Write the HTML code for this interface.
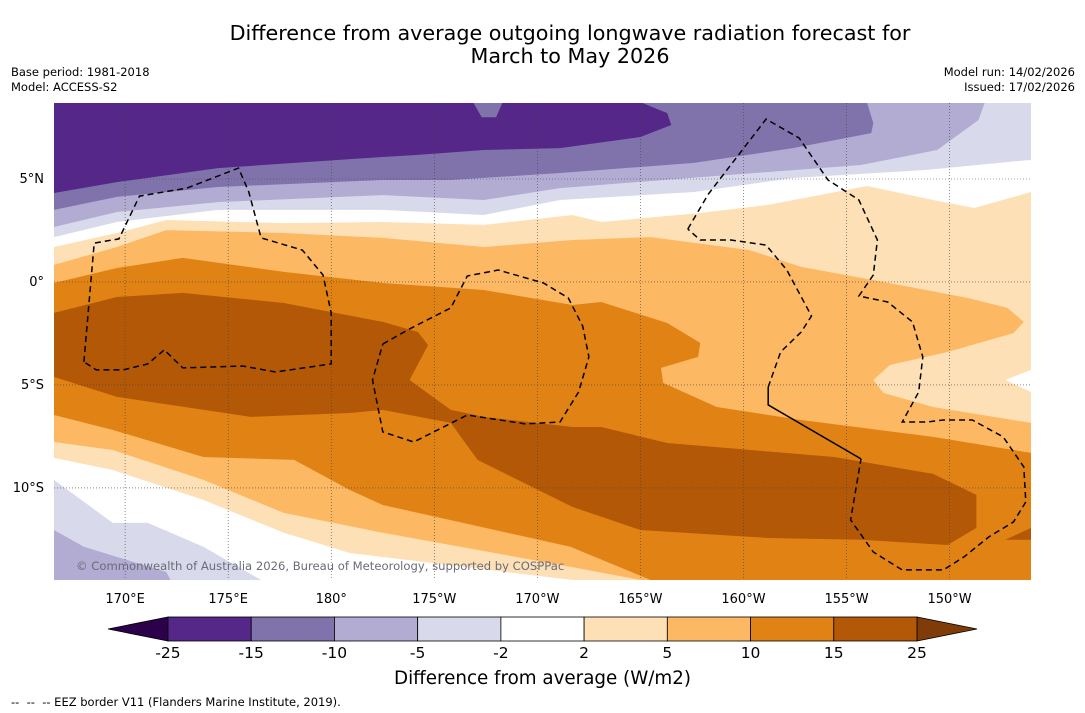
<!DOCTYPE html>
<html><head><meta charset="utf-8">
<style>
html,body{margin:0;padding:0;background:#fff;}
body{width:1085px;height:713px;position:relative;overflow:hidden;font-family:"DejaVu Sans","Liberation Sans",sans-serif;}
.t{position:absolute;color:#000;white-space:nowrap;}
</style></head>
<body>
<div class="t" style="left:0;width:1140px;text-align:center;top:22px;font-size:20.7px;line-height:23px;">Difference from average outgoing longwave radiation forecast for<br>March to May 2026</div>
<div class="t" style="left:11px;top:65px;font-size:11.5px;line-height:15px;">Base period: 1981-2018<br>Model: ACCESS-S2</div>
<div class="t" style="right:10px;top:65px;font-size:11.5px;line-height:15px;text-align:right;">Model run: 14/02/2026<br>Issued: 17/02/2026</div>
<svg id="map" width="1085" height="713" style="position:absolute;left:0;top:0;" xmlns="http://www.w3.org/2000/svg"></svg>
<div class="t" style="left:0;width:1085px;text-align:center;top:668px;font-size:18.3px;">Difference from average (W/m2)</div>
<div class="t" style="left:11px;top:695px;font-size:11.5px;">-- &nbsp;-- &nbsp;-- EEZ border V11 (Flanders Marine Institute, 2019).</div>
<script>
// ---- data ----
const lonTicks = [170,175,180,185,190,195,200,205,210];
const lonTickLabels = ["170°E","175°E","180°","175°W","170°W","165°W","160°W","155°W","150°W"];
const latTicks = [5,0,-5,-10];
const latTickLabels = ["5°N","0°","5°S","10°S"];
const cbLevels = ["-25","-15","-10","-5","-2","2","5","10","15","25"];
const cbColors = ["#542788","#8073ac","#b2abd2","#d8daeb","#ffffff","#fee0b6","#fdb863","#e08214","#b35806"];
const W=166.55,E=213.95,N=8.69,S=-14.47;
const ge2 = [[W,1.70],[169.6,2.38],[172.0,3.01],[177.7,2.86],[182.5,2.91],[187.4,2.77],[191.7,3.25],[193.1,2.91],[197.9,3.35],[201.2,3.74],[206.0,4.66],[209.2,3.98],[211.2,3.59],[E,4.37],[E,S],[191.7,S],[180.9,-13.16],[177.7,-12.18],[173.8,-10.58],[169.4,-9.13],[W,-8.54]];
const ge5 = [[W,0.83],[169.6,1.70],[172.0,2.52],[177.7,2.38],[182.5,2.14],[187.4,1.70],[191.7,2.04],[195.5,2.18],[200.3,1.55],[202.8,0.73],[206.8,0],[210.9,-0.78],[212.8,-1.26],[213.6,-1.94],[213.1,-2.48],[209.9,-3.40],[207.1,-4.03],[206.3,-4.76],[206.8,-5.39],[209.2,-6.07],[E,-6.84],[E,S],[195.0,S],[191.6,-13.83],[182.5,-12.18],[177.7,-11.21],[173.8,-9.61],[169.4,-8.16],[W,-7.77]];
const pocketLow = [[E,-4.27],[212.7,-4.76],[E,-5.34]];
const ge10 = [[W,-0.05],[169.6,0.68],[172.8,1.17],[177.7,0.49],[182.5,-0.05],[187.4,-0.39],[191.7,-1.12],[193.1,-0.97],[196.3,-1.99],[197.9,-2.96],[197.8,-3.64],[196.0,-4.17],[196.1,-4.90],[198.7,-6.07],[202.8,-6.70],[209.2,-7.52],[E,-8.30],[E,S],[195.5,S],[191.6,-12.86],[182.5,-10.83],[180.9,-10.10],[178.2,-8.64],[173.8,-8.50],[169.4,-7.18],[W,-6.46]];
const ge15 = [[W,-1.50],[169.6,-0.73],[172.8,-0.53],[177.7,-1.02],[182.5,-1.94],[184.2,-2.43],[184.7,-3.06],[183.8,-4.76],[185.8,-6.21],[187.4,-6.55],[191.7,-7.04],[193.1,-7.04],[196.3,-7.82],[204.4,-8.50],[209.2,-9.32],[211.3,-10.34],[211.3,-11.94],[209.9,-12.77],[205.7,-12.52],[201.2,-12.43],[195.0,-12.04],[191.7,-10.92],[187.1,-8.64],[185.8,-6.84],[182.5,-6.21],[180.9,-6.36],[176.1,-6.55],[169.6,-5.58],[W,-4.61]];
const ge15b = [[212.7,-12.52],[E,-11.94],[E,-12.52]];
const le2 = [[W,N],[E,N],[E,5.92],[213.8,5.92],[208.9,5.44],[202.4,5.05],[197.6,4.37],[191.1,3.98],[187.4,3.25],[182.5,3.50],[174.5,3.50],[169.6,2.91],[W,2.18]];
const le5 = [[W,N],[211.7,N],[211.4,7.86],[209.4,6.41],[205.7,5.68],[199.2,5.19],[191.1,4.56],[187.4,3.98],[182.5,4.22],[174.5,3.88],[169.6,3.40],[W,2.67]];
const le10 = [[W,N],[206.0,N],[206.3,7.72],[206.2,7.23],[202.4,6.50],[197.6,5.78],[191.1,5.29],[185.8,4.95],[182.5,4.95],[174.5,4.61],[169.6,4.13],[W,3.50]];
const le15 = [[W,N],[186.9,N],[187.3,8.0],[188.0,8.0],[188.3,N],[195.1,N],[196.3,8.20],[196.5,7.62],[195.0,7.04],[191.1,6.50],[187.4,6.41],[184.2,6.17],[182.5,6.07],[178.2,5.78],[174.5,5.53],[169.6,4.85],[W,4.32]];
const le2sw = [[W,-9.61],[169.4,-11.70],[171.1,-11.70],[173.8,-12.86],[176.6,S],[W,S]];
const le5sw = [[W,-12.04],[168.0,-12.86],[169.6,-13.35],[172.0,-14.08],[172.2,S],[W,S]];
const eez1 = [[168.0,-3.88],[168.5,1.89],[169.7,2.09],[170.7,4.17],[173.0,4.56],[175.5,5.53],[176.0,4.37],[176.6,2.14],[178.6,1.55],[179.6,0.34],[180.0,-1.50],[180.0,-3.98],[177.3,-4.37],[175.7,-4.08],[172.8,-4.17],[171.9,-3.30],[171.1,-3.98],[169.9,-4.27],[168.6,-4.27],[168.0,-3.88]];
const eez2 = [[182.5,-3.01],[183.8,-2.28],[185.8,-1.26],[186.6,0.29],[188.1,0.58],[190.3,-0.05],[191.5,-0.78],[192.2,-2.14],[192.5,-3.64],[192.0,-5.34],[191.1,-6.80],[189.4,-6.89],[186.6,-6.46],[184.0,-7.77],[182.5,-7.28],[182.0,-4.76],[182.5,-3.01]];
const eez3 = [[197.3,2.57],[198.3,4.27],[201.1,7.91],[202.7,6.99],[204.1,4.95],[205.6,3.98],[206.5,2.04],[206.3,0.34],[205.6,-0.68],[207.0,-0.97],[208.2,-1.94],[208.7,-3.64],[208.5,-5.34],[207.7,-6.80],[208.9,-6.80],[209.7,-6.70],[211.1,-6.70],[212.6,-7.52],[213.6,-8.98],[213.7,-10.68],[213.1,-11.65],[211.9,-12.38],[210.7,-13.35],[209.7,-13.98],[207.7,-13.98],[206.3,-13.11],[205.2,-11.55],[205.7,-8.59]];
const eez3solid = [[205.7,-8.59],[201.2,-5.97],[201.2,-5.10]];
const eez3b = [[201.2,-5.10],[201.8,-3.40],[202.8,-2.43],[203.3,-1.65],[202.1,0.58],[201.1,1.79],[199.4,2.04],[197.9,2.04],[197.3,2.57]];

// ---- axes ----
const X0=54,X1=1031,Y0=103,Y1=580;
const xS = lon => X0 + (lon-W)/(E-W)*(X1-X0);
const yS = lat => Y0 + (N-lat)/(N-S)*(Y1-Y0);
const svg = document.getElementById('map');
const NS='http://www.w3.org/2000/svg';
const FONT='DejaVu Sans, Liberation Sans, sans-serif';
function mk(tag, attrs){const e=document.createElementNS(NS,tag);for(const k in attrs)e.setAttribute(k,attrs[k]);svg.appendChild(e);return e;}
const pts = arr => arr.map(p=>xS(p[0]).toFixed(1)+','+yS(p[1]).toFixed(1)).join(' ');

const bg = mk('rect',{x:X0,y:Y0,width:X1-X0,height:Y1-Y0,fill:'#ffffff'});


const fills = [
 ['contour-ge2',ge2,'#fee0b6'],['contour-ge5',ge5,'#fdb863'],['contour-pocket-lt5',pocketLow,'#fee0b6'],
 ['contour-ge10',ge10,'#e08214'],['contour-ge15',ge15,'#b35806'],['contour-ge15-east',ge15b,'#b35806'],
 ['contour-le-2',le2,'#d8daeb'],['contour-le-5',le5,'#b2abd2'],['contour-le-10',le10,'#8073ac'],['contour-le-15',le15,'#542788'],
 ['contour-le-2-sw',le2sw,'#d8daeb'],['contour-le-5-sw',le5sw,'#b2abd2']];
fills.forEach(f=>{
 const p=mk('polygon',{points:pts(f[1]),fill:f[2]});
 
 
});
const wp=mk('polygon',{points:pts(pocketLow),fill:'#ffffff'});



// grid
lonTicks.forEach((lon,i)=>{
 const l=mk('line',{x1:xS(lon),x2:xS(lon),y1:Y0,y2:Y1,stroke:'#444','stroke-width':0.6,'stroke-dasharray':'1,2'});
 
 
 const t=mk('text',{x:xS(lon),y:603,'text-anchor':'middle','font-size':13,'font-family':FONT});
 t.textContent=lonTickLabels[i];
 
 
});
latTicks.forEach((lat,i)=>{
 const l=mk('line',{x1:X0,x2:X1,y1:yS(lat),y2:yS(lat),stroke:'#444','stroke-width':0.6,'stroke-dasharray':'1,2'});
 
 
 const t=mk('text',{x:44,y:yS(lat)+4,'text-anchor':'end','font-size':13,'font-family':FONT});
 t.textContent=latTickLabels[i];
 
 
});
// EEZ borders
[['eez-border-tuvalu',eez1,'6,4'],['eez-border-tokelau',eez2,'6,4'],['eez-border-line-islands',eez3,'6,4'],['eez-border-solid',eez3solid,'none'],['eez-border-line-islands-north',eez3b,'6,4']].forEach(b=>{
 const p=mk('polyline',{points:pts(b[1]),fill:'none',stroke:'#000','stroke-width':1.5,'stroke-dasharray':b[2]});
 
 
});
const cr=mk('text',{x:76,y:570,'font-size':11.6,fill:'#6b6b7a','font-family':FONT});
cr.textContent='© Commonwealth of Australia 2026, Bureau of Meteorology, supported by COSPPac';



// colorbar
const CB0=168,CB1=917,CBY=617,CBH=24;
const bw=(CB1-CB0)/cbColors.length;
const lt=mk('polygon',{points:`108,${CBY+CBH/2} ${CB0},${CBY} ${CB0},${CBY+CBH}`,fill:'#2d004b',stroke:'#000','stroke-width':0.8});


const rt=mk('polygon',{points:`977,${CBY+CBH/2} ${CB1},${CBY} ${CB1},${CBY+CBH}`,fill:'#7f3b08',stroke:'#000','stroke-width':0.8});


cbColors.forEach((c,i)=>{
 const r=mk('rect',{x:CB0+i*bw,y:CBY,width:bw,height:CBH,fill:c,stroke:'#000','stroke-width':0.8});
 
 
});
cbLevels.forEach((s,i)=>{
 const t=mk('text',{x:CB0+i*bw,y:658,'text-anchor':'middle','font-size':15.5,'font-family':FONT});
 t.textContent=s;
 
 
});
</script>
</body></html>
